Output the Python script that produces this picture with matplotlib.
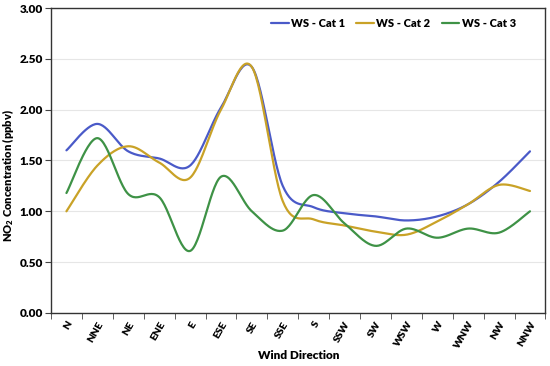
import numpy as np
import matplotlib
matplotlib.use("Agg")
import matplotlib.pyplot as plt

categories = ["N", "NNE", "NE", "ENE", "E", "ESE", "SE", "SSE", "S", "SSW",
              "SW", "WSW", "W", "WNW", "NW", "NNW"]
cat1 = [1.60, 1.86, 1.59, 1.52, 1.45, 2.02, 2.42, 1.25, 1.04, 0.98,
        0.95, 0.91, 0.95, 1.07, 1.29, 1.59]
cat2 = [1.00, 1.45, 1.64, 1.48, 1.33, 2.00, 2.42, 1.10, 0.92, 0.86,
        0.80, 0.77, 0.90, 1.07, 1.26, 1.20]
cat3 = [1.18, 1.72, 1.17, 1.14, 0.61, 1.34, 1.00, 0.81, 1.16, 0.88,
        0.66, 0.83, 0.74, 0.83, 0.79, 1.00]
series_names = ["WS - Cat 1", "WS - Cat 2", "WS - Cat 3"]
colors = ["#4A5AC8", "#C9A227", "#3E9246"]
yticks = [0.0, 0.5, 1.0, 1.5, 2.0, 2.5, 3.0]

plt.rcParams['font.family'] = ['Lato', 'DejaVu Sans']
plt.rcParams['mathtext.fontset'] = 'custom'
plt.rcParams['mathtext.rm'] = 'Lato'
plt.rcParams['mathtext.bf'] = 'Lato:heavy'
W = 'heavy'


def smooth(y, n=30):
    y = np.asarray(y, float)
    x = np.arange(len(y), dtype=float)
    P = np.column_stack([x, y])
    Pe = np.vstack([P[0], P, P[-1]])
    out = []
    t = np.linspace(0, 1, n)[:, None]
    for i in range(len(P) - 1):
        p0, p3 = Pe[i + 1], Pe[i + 2]
        c1 = p0 + (Pe[i + 2] - Pe[i]) / 6.0
        c2 = p3 - (Pe[i + 3] - Pe[i + 1]) / 6.0
        seg = ((1 - t) ** 3) * p0 + 3 * ((1 - t) ** 2) * t * c1 + 3 * (1 - t) * t ** 2 * c2 + t ** 3 * p3
        out.append(seg if i == 0 else seg[1:])
    pts = np.vstack(out)
    return pts[:, 0], pts[:, 1]


fig = plt.figure(figsize=(5.5, 3.66), dpi=100)
ax = fig.add_axes([0.0927, 0.145, 0.899, 0.833])

for vals, name, c in zip([cat1, cat2, cat3], series_names, colors):
    xs, ys = smooth(vals)
    ax.plot(xs, ys, color=c, lw=1.6, label=name, solid_capstyle='round')

ax.set_xlim(-0.5, len(categories) - 0.5)
ax.set_ylim(0, 3)
ax.set_yticks(yticks)
ax.set_yticklabels([f"{v:.2f}" for v in yticks], fontsize=8.5, fontweight=W)
ax.set_xticks(np.arange(len(categories)))
ax.set_xticklabels(categories, rotation=60, ha='right', rotation_mode='anchor',
                   fontsize=7.5, fontweight=W)
ax.set_xticks(np.arange(len(categories) + 1) - 0.5, minor=True)
ax.tick_params(axis='x', which='major', length=0, pad=5)
ax.tick_params(axis='x', which='minor', length=4, direction='out', color='#444444')
ax.tick_params(axis='y', length=4, direction='out', color='#444444', pad=2)
ax.yaxis.grid(True, color='#E6E6E6', lw=0.8)
ax.set_axisbelow(True)
for s in ax.spines.values():
    s.set_color('#333333')
    s.set_linewidth(1.0)

ax.set_ylabel("NO$_\\mathbf{2}$ Concentration (ppbv)", fontsize=8, fontweight=W, va='center')
ax.yaxis.set_label_coords(-0.087, 0.45)
ax.set_xlabel("Wind Direction", fontsize=8.5, fontweight=W, va='center')
ax.xaxis.set_label_coords(0.5, -0.14)

leg = ax.legend(loc='upper right', ncol=3, frameon=False, fontsize=8,
                handlelength=1.6, handletextpad=0.2, columnspacing=1.0,
                bbox_to_anchor=(0.96, 1.0))
for t in leg.get_texts():
    t.set_fontweight(W)

fig.savefig("out.png", dpi=100)
